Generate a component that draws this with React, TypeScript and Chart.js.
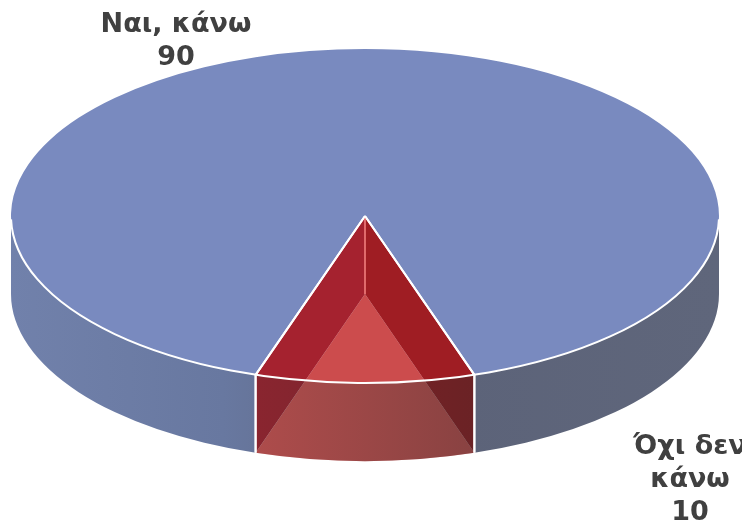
import React, { useEffect, useRef } from "react";
import { Chart, registerables } from "chart.js";

Chart.register(...registerables);

// ---- data ----
const categories = ["Ναι, κάνω", "Όχι δεν κάνω"];
const values = [90, 10];

// ---- styles / layout ----
const TOP_COLORS = ["rgb(121,138,191)", "rgba(190,30,40,0.15)"];
const HOLLOW = [false, true];
const CX = 357;
const CY = 208;
const RX = 354;
const RY = 167;
const DEPTH = 78;
const FONT = "bold 27px 'DejaVu Sans'";
const LINE_H = 33;
const LABEL_POS = [
  { x: 168, y: 24, maxW: 220 },
  { x: 682, y: 446, maxW: 130 },
];

function pt(a: number, dy = 0): [number, number] {
  return [CX + RX * Math.cos(a), CY + RY * Math.sin(a) + dy];
}

function visibleIntervals(s: number, e: number): [number, number][] {
  const out: [number, number][] = [];
  for (let k = -3; k <= 3; k++) {
    const lo = Math.max(s, 2 * Math.PI * k);
    const hi = Math.min(e, 2 * Math.PI * k + Math.PI);
    if (hi > lo) out.push([lo, hi]);
  }
  return out;
}

function wallPath(ctx: CanvasRenderingContext2D, lo: number, hi: number) {
  ctx.beginPath();
  ctx.ellipse(CX, CY, RX, RY, 0, lo, hi, false);
  ctx.ellipse(CX, CY + DEPTH, RX, RY, 0, hi, lo, true);
  ctx.closePath();
}

function wrap(ctx: CanvasRenderingContext2D, text: string, maxW: number) {
  const words = text.split(" ");
  const lines: string[] = [];
  let cur = "";
  for (const w of words) {
    const t = cur ? cur + " " + w : w;
    if (cur && ctx.measureText(t).width > maxW) {
      lines.push(cur);
      cur = w;
    } else cur = t;
  }
  if (cur) lines.push(cur);
  return lines;
}

const pie3d = {
  id: "pie3d",
  beforeDatasetsDraw(chart: any) {
    const ctx: CanvasRenderingContext2D = chart.ctx;
    const arcs = chart.getDatasetMeta(0).data;
    if (!arcs.length) return;
    // side walls of opaque slices
    arcs.forEach((arc: any, i: number) => {
      const { startAngle, endAngle } = arc.getProps(["startAngle", "endAngle"], true);
      if (!HOLLOW[i]) {
        const g = ctx.createLinearGradient(CX - RX, 0, CX + RX, 0);
        g.addColorStop(0, "rgb(113,129,171)");
        g.addColorStop(0.3, "rgb(104,120,160)");
        g.addColorStop(0.62, "rgb(92,99,121)");
        g.addColorStop(1, "rgb(95,102,123)");
        ctx.fillStyle = g;
        for (const [lo, hi] of visibleIntervals(startAngle, endAngle)) {
          wallPath(ctx, lo, hi);
          ctx.fill();
        }
      }
    });
    // hollow (translucent) slices: floor, radial walls, front wall
    arcs.forEach((arc: any, i: number) => {
      if (!HOLLOW[i]) return;
      const { startAngle: s, endAngle: e } = arc.getProps(["startAngle", "endAngle"], true);
      // floor
      ctx.beginPath();
      ctx.moveTo(CX, CY + DEPTH);
      ctx.ellipse(CX, CY + DEPTH, RX, RY, 0, s, e, false);
      ctx.closePath();
      ctx.fillStyle = "rgb(207,85,84)";
      ctx.fill();
      // radial walls
      const walls: [number, string][] = [
        [e, "rgb(162,36,49)"],
        [s, "rgb(155,30,35)"],
      ];
      for (const [a, col] of walls) {
        const p = pt(a);
        ctx.beginPath();
        ctx.moveTo(CX, CY);
        ctx.lineTo(p[0], p[1]);
        ctx.lineTo(p[0], p[1] + DEPTH);
        ctx.lineTo(CX, CY + DEPTH);
        ctx.closePath();
        ctx.fillStyle = col;
        ctx.fill();
      }
      // front wall translucent
      const pl = pt(e), pr = pt(s);
      const g = ctx.createLinearGradient(pl[0], 0, pr[0], 0);
      g.addColorStop(0, "rgba(40,40,40,0.2)");
      g.addColorStop(1, "rgba(40,40,40,0.42)");
      ctx.fillStyle = g;
      for (const [lo, hi] of visibleIntervals(s, e)) {
        wallPath(ctx, lo, hi);
        ctx.fill();
      }
    });
    const { x, y, outerRadius } = arcs[0].getProps(["x", "y", "outerRadius"], true);
    ctx.save();
    ctx.translate(CX, CY);
    ctx.scale(RX / outerRadius, RY / outerRadius);
    ctx.translate(-x, -y);
  },
  afterDatasetsDraw(chart: any) {
    const ctx: CanvasRenderingContext2D = chart.ctx;
    const arcs = chart.getDatasetMeta(0).data;
    if (!arcs.length) return;
    ctx.restore();
    ctx.save();
    ctx.strokeStyle = "#ffffff";
    ctx.lineWidth = 2;
    ctx.lineJoin = "round";
    // front rim
    ctx.beginPath();
    ctx.ellipse(CX, CY, RX, RY, 0, 0.02, Math.PI - 0.02, false);
    ctx.stroke();
    arcs.forEach((arc: any, i: number) => {
      const { startAngle: s, endAngle: e } = arc.getProps(["startAngle", "endAngle"], true);
      if (HOLLOW[i]) {
        // inner junction line
        ctx.save();
        ctx.strokeStyle = "rgba(235,120,120,0.85)";
        ctx.lineWidth = 2;
        ctx.beginPath();
        ctx.moveTo(CX, CY);
        ctx.lineTo(CX, CY + DEPTH);
        ctx.stroke();
        ctx.restore();
      }
      for (const a of [s, e]) {
        const p = pt(a);
        ctx.beginPath();
        ctx.moveTo(CX, CY);
        ctx.lineTo(p[0], p[1]);
        if (Math.sin(a) > 0) ctx.lineTo(p[0], p[1] + DEPTH);
        ctx.stroke();
      }
    });
    // labels
    ctx.font = FONT;
    ctx.fillStyle = "#404040";
    ctx.textAlign = "center";
    ctx.textBaseline = "alphabetic";
    const labels = chart.data.labels as string[];
    const data = chart.data.datasets[0].data as number[];
    labels.forEach((lab, i) => {
      const pos = LABEL_POS[i];
      const lines = [...wrap(ctx, lab, pos.maxW), String(data[i])];
      lines.forEach((ln, j) => ctx.fillText(ln, pos.x, pos.y + j * LINE_H));
    });
    ctx.restore();
  },
};

export default function App() {
  const ref = useRef<HTMLCanvasElement | null>(null);
  useEffect(() => {
    if (!ref.current) return;
    const chart = new Chart(ref.current, {
      type: "pie",
      data: {
        labels: categories,
        datasets: [
          {
            data: values,
            backgroundColor: TOP_COLORS,
            borderWidth: 0,
            clip: false as any,
          },
        ],
      },
      options: {
        responsive: false,
        animation: false,
        events: [],
        rotation: 198,
        layout: { padding: 0 },
        plugins: {
          legend: { display: false },
          tooltip: { enabled: false },
          title: { display: false },
        },
      },
      plugins: [pie3d],
    });
    return () => chart.destroy();
  }, []);
  return (
    <canvas
      ref={ref}
      width={734}
      height={512}
      style={{ display: "block", width: 734, height: 512 }}
    />
  );
}
